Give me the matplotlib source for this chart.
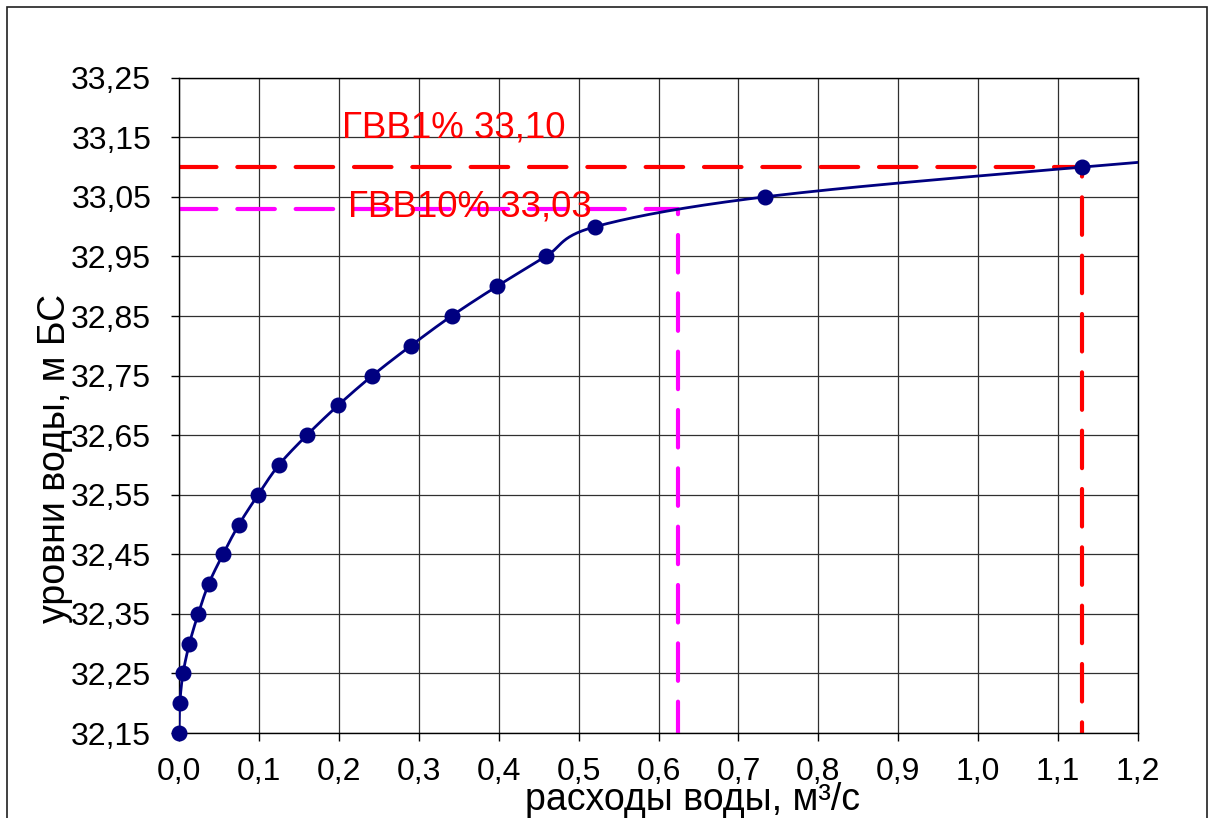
import numpy as np
import matplotlib.pyplot as plt
from matplotlib.patches import Rectangle

plt.rcParams['font.family'] = ['Liberation Sans', 'DejaVu Sans']

# кривая расходов Q = f(H)
discharge = [0.0, 0.001, 0.005, 0.013, 0.024, 0.037, 0.055, 0.075, 0.099,
             0.125, 0.160, 0.199, 0.242, 0.290, 0.341, 0.398, 0.459, 0.521,
             0.733, 1.130, 1.600]
level = [32.15, 32.20, 32.25, 32.30, 32.35, 32.40, 32.45, 32.50, 32.55,
         32.60, 32.65, 32.70, 32.75, 32.80, 32.85, 32.90, 32.95, 33.00,
         33.05, 33.10, 33.15]

# расчётные уровни ГВВ
q1, h1 = 1.13, 33.10
q10, h10 = 0.624, 33.03
label1 = 'ГВВ1% 33,10'
label10 = 'ГВВ10% 33,03'

x_ticks = np.round(np.arange(0, 1.21, 0.1), 1)
y_ticks = np.round(np.arange(32.15, 33.26, 0.1), 2)


def smooth(x, y, n=30):
    # сглаживание как в Excel: кубические Безье через точки
    x = np.asarray(x)
    y = np.asarray(y)
    px = np.concatenate([[x[0]], x, [x[-1]]])
    py = np.concatenate([[y[0]], y, [y[-1]]])
    sx, sy = [], []
    t = np.linspace(0, 1, n)
    for i in range(1, len(px) - 2):
        p0 = np.array([px[i], py[i]])
        p3 = np.array([px[i + 1], py[i + 1]])
        c1 = p0 + (p3 - np.array([px[i - 1], py[i - 1]])) / 6
        c2 = p3 - (np.array([px[i + 2], py[i + 2]]) - p0) / 6
        pts = ((1 - t) ** 3)[:, None] * p0 + (3 * (1 - t) ** 2 * t)[:, None] * c1 \
            + (3 * (1 - t) * t ** 2)[:, None] * c2 + (t ** 3)[:, None] * p3
        sx.extend(pts[:, 0])
        sy.extend(pts[:, 1])
    return sx, sy


fig = plt.figure(figsize=(12.13, 8.18), dpi=100)
ax = fig.add_axes([0.1476, 0.1039, 0.7906, 0.8011])

# рамка вокруг диаграммы
fig.patches.append(Rectangle((7 / 1213, -0.05), 1200 / 1213, 1.05 - 7 / 818,
                             transform=fig.transFigure, fill=False,
                             edgecolor='#202020', lw=1.2))

ax.grid(True, color='#303030', lw=0.9)
ax.set_axisbelow(True)

sx, sy = smooth(discharge, level)
ax.plot(sx, sy, color='#000080', lw=2, zorder=3)
pts, = ax.plot(discharge[:-1], level[:-1], 'o', color='#000080', ms=10.5, zorder=4)
pts.set_clip_on(False)

l1, = ax.plot([0, q1, q1], [h1, h1, y_ticks[0]], color='#FF0000', lw=3,
              dash_capstyle='round', zorder=2)
l1.set_dashes((9, 5))
l10, = ax.plot([0, q10, q10], [h10, h10, y_ticks[0]], color='#FF00FF', lw=3,
               dash_capstyle='round', zorder=2)
l10.set_dashes((9, 5))

ax.text(0.204, 33.150, label1, color='#FF0000', fontsize=26.5, va='baseline', zorder=5)
ax.text(0.212, 33.017, label10, color='#FF0000', fontsize=26.5, va='baseline', zorder=5)

ax.set_xlim(0, 1.2)
ax.set_ylim(32.15, 33.25)
ax.set_xticks(x_ticks)
ax.set_yticks(y_ticks)
ax.set_xticklabels([f'{v:.1f}'.replace('.', ',') for v in x_ticks])
ax.set_yticklabels([f'{v:.2f}'.replace('.', ',') for v in y_ticks])
ax.tick_params(direction='out', length=6, width=1, labelsize=23, pad=11)
ax.tick_params(axis='y', pad=14)
for s in ax.spines.values():
    s.set_linewidth(1)

fig.text(65 / 1213, 1 - 458 / 818, 'уровни воды, м БС', fontsize=27,
         rotation=90, ha='center', va='baseline', rotation_mode='anchor')
fig.text(525 / 1213, 1 - 810 / 818, 'расходы воды, м³/с', fontsize=27,
         ha='left', va='baseline')

fig.savefig('out.png', dpi=100)
